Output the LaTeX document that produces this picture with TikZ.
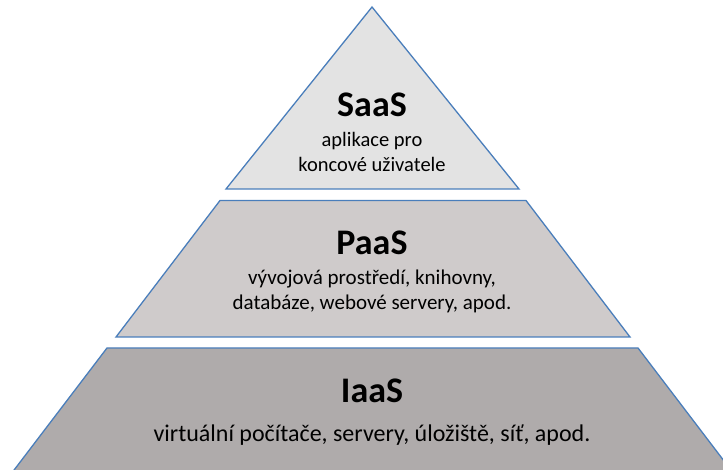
\documentclass[tikz,border=0pt]{standalone}
\usepackage{fontspec}
\setmainfont{Carlito}
\definecolor{edge}{HTML}{4A7EBB}
\definecolor{lvlA}{HTML}{E3E3E3}
\definecolor{lvlB}{HTML}{CFCBCB}
\definecolor{lvlC}{HTML}{AFABAB}
\begin{document}
\begin{tikzpicture}[x=1pt,y=1pt,
  layer/.style={draw=edge,line width=1.3pt,line join=miter},
  title/.style={anchor=base,font=\fontsize{36}{40}\selectfont\bfseries,inner sep=0pt},
  sub/.style={anchor=base,font=\fontsize{20.5}{25}\selectfont,inner sep=0pt,align=center},
  subB/.style={anchor=base,font=\fontsize{21}{25}\selectfont,inner sep=0pt,align=center},
  subC/.style={anchor=base,font=\fontsize{24}{28}\selectfont,inner sep=0pt,align=center}]
\useasboundingbox (0,0) rectangle (723,470);
\clip (0,0) rectangle (723,470);
% top level
\path[layer,fill=lvlA] (372,463) -- (519,281) -- (226,281) -- cycle;
% middle level
\path[layer,fill=lvlB] (220,269.5) -- (526,269.5) -- (630,133) -- (116,133) -- cycle;
% bottom level
\path[layer,fill=lvlC] (107,122) -- (638,122) -- (737,-8) -- (8,-8) -- cycle;
% texts
\node[title] (saas) at (372,353) {SaaS};
\node[sub] (saas1) at (372,323) {aplikace pro};
\node[sub] (saas2) at (372,298) {koncové uživatele};
\node[title] (paas) at (372,215) {PaaS};
\node[subB] (paas1) at (372,185) {vývojová prostředí, knihovny,};
\node[subB] (paas2) at (372,160) {databáze, webové servery, apod.};
\node[title] (iaas) at (372,67) {IaaS};
\node[subC] (iaas1) at (372,28) {virtuální počítače, servery, úložiště, síť, apod.};
\end{tikzpicture}
\end{document}
